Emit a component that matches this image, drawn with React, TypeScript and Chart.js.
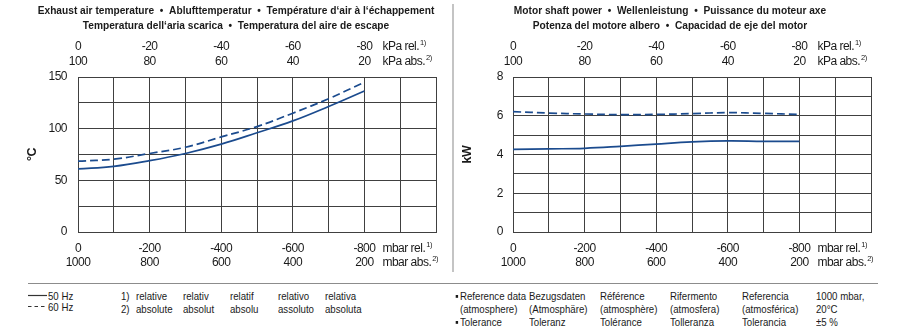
import React, { useEffect, useRef } from 'react';
import { Chart, registerables } from 'chart.js';
Chart.register(...registerables);

const FONT = "'Liberation Sans', Arial, Helvetica, sans-serif";

// Data (pressure relative in mbar)
const pressureRel = [0, -100, -200, -300, -400, -500, -600, -700, -800];
const temp50Hz = [61, 63.5, 69, 76, 85, 96, 107.5, 121.5, 136.5];
const temp60Hz = [68.5, 70.5, 76, 82, 92, 102, 115, 129, 145];
const power50Hz = [4.26, 4.29, 4.32, 4.42, 4.54, 4.65, 4.7, 4.68, 4.68];
const power60Hz = [6.21, 6.14, 6.09, 6.06, 6.07, 6.11, 6.16, 6.12, 6.07];

// Tick labels
const mbarRelTicks = [0, -200, -400, -600, -800];
const kPaRelLabels = ['0', '-20', '-40', '-60', '-80'];
const kPaAbsLabels = ['100', '80', '60', '40', '20'];
const mbarRelLabels = ['0', '-200', '-400', '-600', '-800'];
const mbarAbsLabels = ['1000', '800', '600', '400', '200'];

const leftTitle = [
  'Exhaust air temperature  \u2022  Ablufttemperatur  \u2022  Temp\u00e9rature d\u2018air \u00e0 l\u2018\u00e9chappement',
  'Temperatura dell\u2018aria scarica  \u2022  Temperatura del aire de escape',
];
const rightTitle = [
  'Motor shaft power  \u2022  Wellenleistung  \u2022  Puissance du moteur axe',
  'Potenza del motore albero  \u2022  Capacidad de eje del motor',
];

const LINE_COLOR = '#1b4b8e';
const GRID_COLOR = '#404040';
const TEXT_COLOR = '#1a1a1a';
const CONDENSE = 0.84;
const TITLE_CONDENSE = 0.885;

const labelFor = (labels: string[]) => (v: any) => {
  const i = mbarRelTicks.indexOf(Number(v));
  return i >= 0 ? labels[i] : '';
};

const decorPlugin = {
  id: 'decor',
  beforeDraw(chart: any) {
    try { chart.ctx.letterSpacing = '-0.5px'; } catch (e) {}
  },
  afterDraw(chart: any, _args: any, opts: any) {
    const { ctx, chartArea } = chart;
    ctx.save();
    try { ctx.letterSpacing = '0px'; } catch (e) {}
    ctx.fillStyle = TEXT_COLOR;
    ctx.textBaseline = 'middle';
    ctx.textAlign = 'center';
    ctx.font = `bold 11.5px ${FONT}`;
    const cx = (chartArea.left + chartArea.right) / 2 + opts.titleShift;
    opts.title.forEach((line: string, i: number) => {
      ctx.save();
      ctx.translate(cx, opts.titleY[i]);
      ctx.scale(TITLE_CONDENSE, 1);
      ctx.fillText(line, 0, 0);
      ctx.restore();
    });
    ctx.textAlign = 'left';
    try { ctx.letterSpacing = '-0.5px'; } catch (e) {}
    for (const u of opts.units) {
      const scale = chart.scales[u.axis];
      const x = scale.getPixelForValue(-800) + 18;
      ctx.font = `12px ${FONT}`;
      ctx.fillText(u.text, x, u.y);
      const w = ctx.measureText(u.text).width;
      ctx.font = `7.5px ${FONT}`;
      ctx.fillText(u.sup, x + w + 1, u.y - 4);
    }
    ctx.restore();
    try { ctx.letterSpacing = '0px'; } catch (e) {}
  },
};

function makeConfig(p: any) {
  const tickFont = { family: FONT, size: 12, lineHeight: 1 };
  const xBase = { type: 'linear', min: -1000, max: 0, reverse: true };
  const hiddenGrid = { display: false, drawTicks: false, tickLength: 0 };
  const noBorder = { display: false };
  const xTicks = (padding: number, labels: string[]) => ({
    stepSize: 100,
    autoSkip: false,
    maxRotation: 0,
    padding,
    font: tickFont,
    color: TEXT_COLOR,
    callback: labelFor(labels),
  });
  return {
    type: 'line',
    data: {
      datasets: [
        {
          label: '50 Hz',
          data: pressureRel.map((x, i) => ({ x, y: p.s50[i] })),
          borderColor: LINE_COLOR,
          borderWidth: 1.7,
          pointRadius: 0,
          tension: 0.4,
          xAxisID: 'x',
          yAxisID: 'y',
        },
        {
          label: '60 Hz',
          data: pressureRel.map((x, i) => ({ x, y: p.s60[i] })),
          borderColor: LINE_COLOR,
          borderWidth: 1.7,
          borderDash: [8, 4],
          pointRadius: 0,
          tension: 0.4,
          xAxisID: 'x',
          yAxisID: 'y',
        },
      ],
    },
    options: {
      responsive: false,
      animation: false,
      events: [],
      layout: { padding: { left: 0, right: p.padRight, top: 41, bottom: 11 } },
      plugins: {
        legend: { display: false },
        tooltip: { enabled: false },
        title: { display: false },
        decor: {
          title: p.title,
          titleY: [11, 26],
          titleShift: p.titleShift,
          units: [
            { axis: 'kRel', text: 'kPa rel.', sup: '1)', y: 47 },
            { axis: 'kAbs', text: 'kPa abs.', sup: '2)', y: 62 },
            { axis: 'x', text: 'mbar rel.', sup: '1)', y: 249 },
            { axis: 'xAbs', text: 'mbar abs.', sup: '2)', y: 263 },
          ],
        },
      },
      scales: {
        x: {
          ...xBase,
          position: 'bottom',
          weight: 0,
          ticks: xTicks(11, mbarRelLabels),
          grid: { color: GRID_COLOR, lineWidth: 1, drawTicks: false },
          border: { display: true, color: GRID_COLOR, width: 1 },
          afterFit: (s: any) => { s.height = 23; },
        },
        xAbs: {
          ...xBase,
          position: 'bottom',
          weight: 1,
          ticks: xTicks(2, mbarAbsLabels),
          grid: hiddenGrid,
          border: noBorder,
          afterFit: (s: any) => { s.height = 14; },
        },
        kAbs: {
          ...xBase,
          position: 'top',
          weight: 0,
          ticks: xTicks(9, kPaAbsLabels),
          grid: hiddenGrid,
          border: noBorder,
          afterFit: (s: any) => { s.height = 21; },
        },
        kRel: {
          ...xBase,
          position: 'top',
          weight: 1,
          ticks: xTicks(3, kPaRelLabels),
          grid: hiddenGrid,
          border: noBorder,
          afterFit: (s: any) => { s.height = 15; },
        },
        y: {
          type: 'linear',
          position: 'left',
          min: 0,
          max: p.yMax,
          ticks: {
            stepSize: p.yStep,
            autoSkip: false,
            padding: p.yTickPad,
            font: { family: FONT, size: 12 },
            color: TEXT_COLOR,
            callback: (v: any) => (Number(v) % p.yLabelStep === 0 ? String(v) : ''),
          },
          grid: { color: GRID_COLOR, lineWidth: 1, drawTicks: false },
          border: { display: true, color: GRID_COLOR, width: 1 },
          title: {
            display: true,
            text: p.yTitle,
            color: TEXT_COLOR,
            font: { family: FONT, size: 12.5, weight: 'bold' },
            padding: p.yTitlePad,
          },
          afterFit: (s: any) => { s.width = p.yWidth; },
        },
      },
    },
    plugins: [decorPlugin],
  } as any;
}

const txt: React.CSSProperties = {
  position: 'absolute',
  fontFamily: FONT,
  fontSize: '11.5px',
  lineHeight: '13px',
  color: TEXT_COLOR,
  whiteSpace: 'nowrap',
  transform: `scaleX(${CONDENSE})`,
  transformOrigin: 'left center',
};

function T(props: { x: number; y: number; children: React.ReactNode }) {
  return <div style={{ ...txt, left: props.x, top: props.y - 6.5 }}>{props.children}</div>;
}

const footLeftCols = [
  { x: 136, a: 'relative', b: 'absolute' },
  { x: 183, a: 'relativ', b: 'absolut' },
  { x: 230, a: 'relatif', b: 'absolu' },
  { x: 278, a: 'relativo', b: 'assoluto' },
  { x: 325, a: 'relativa', b: 'absoluta' },
];

const footRightCols = [
  { x: 460, a: 'Reference data', b: '(atmosphere)', c: 'Tolerance' },
  { x: 529, a: 'Bezugsdaten', b: '(Atmosph\u00e4re)', c: 'Toleranz' },
  { x: 600, a: 'R\u00e9f\u00e9rence', b: '(atmosph\u00e8re)', c: 'Tol\u00e9rance' },
  { x: 670, a: 'Rifermento', b: '(atmosfera)', c: 'Tolleranza' },
  { x: 742, a: 'Referencia', b: '(atmosf\u00e9rica)', c: 'Tolerancia' },
  { x: 816, a: '1000 mbar,', b: '20\u00b0C', c: '\u00b15 %' },
];

export default function App() {
  const leftRef = useRef<HTMLCanvasElement>(null);
  const rightRef = useRef<HTMLCanvasElement>(null);

  useEffect(() => {
    document.body.style.margin = '0';
    const c1 = new Chart(
      leftRef.current as HTMLCanvasElement,
      makeConfig({
        s50: temp50Hz,
        s60: temp60Hz,
        yMax: 150,
        yStep: 25,
        yLabelStep: 50,
        yTitle: '\u00b0C',
        yTitlePad: 25,
        yTickPad: 11,
        yWidth: 78,
        padRight: 14,
        title: leftTitle,
        titleShift: -21,
      })
    );
    const c2 = new Chart(
      rightRef.current as HTMLCanvasElement,
      makeConfig({
        s50: power50Hz,
        s60: power60Hz,
        yMax: 8,
        yStep: 1,
        yLabelStep: 2,
        yTitle: 'kW',
        yTitlePad: 10,
        yTickPad: 10,
        yWidth: 63,
        padRight: 29,
        title: rightTitle,
        titleShift: -22,
      })
    );
    return () => {
      c1.destroy();
      c2.destroy();
    };
  }, []);

  return (
    <div style={{ position: 'absolute', left: 0, top: 0, width: 900, height: 331, background: '#fff', overflow: 'hidden' }}>
      <canvas ref={leftRef} width={450} height={280} style={{ position: 'absolute', left: 0, top: 0, display: 'block' }} />
      <canvas ref={rightRef} width={450} height={280} style={{ position: 'absolute', left: 450, top: 0, display: 'block' }} />
      <div style={{ position: 'absolute', left: 452, top: 4, width: 2, height: 268, background: '#c4c4c4' }} />
      <div style={{ position: 'absolute', left: 28, top: 283, width: 850, height: 1, background: '#8c8c8c' }} />
      <svg style={{ position: 'absolute', left: 28, top: 290 }} width={20} height={20}>
        <line x1={0} y1={5.5} x2={19} y2={5.5} stroke="#333" strokeWidth={1.2} />
        <line x1={0} y1={16.5} x2={19} y2={16.5} stroke="#333" strokeWidth={1.2} strokeDasharray="3.5 3" />
      </svg>
      <T x={48} y={296}>50 Hz</T>
      <T x={48} y={307}>60 Hz</T>
      <T x={121} y={296}>1)</T>
      <T x={121} y={309}>2)</T>
      {footLeftCols.map((c) => (
        <React.Fragment key={c.x}>
          <T x={c.x} y={296}>{c.a}</T>
          <T x={c.x} y={309}>{c.b}</T>
        </React.Fragment>
      ))}
      <T x={455} y={296}>{'\u25aa'}</T>
      <T x={455} y={322}>{'\u25aa'}</T>
      {footRightCols.map((c) => (
        <React.Fragment key={c.x}>
          <T x={c.x} y={296}>{c.a}</T>
          <T x={c.x} y={309}>{c.b}</T>
          <T x={c.x} y={322}>{c.c}</T>
        </React.Fragment>
      ))}
    </div>
  );
}
